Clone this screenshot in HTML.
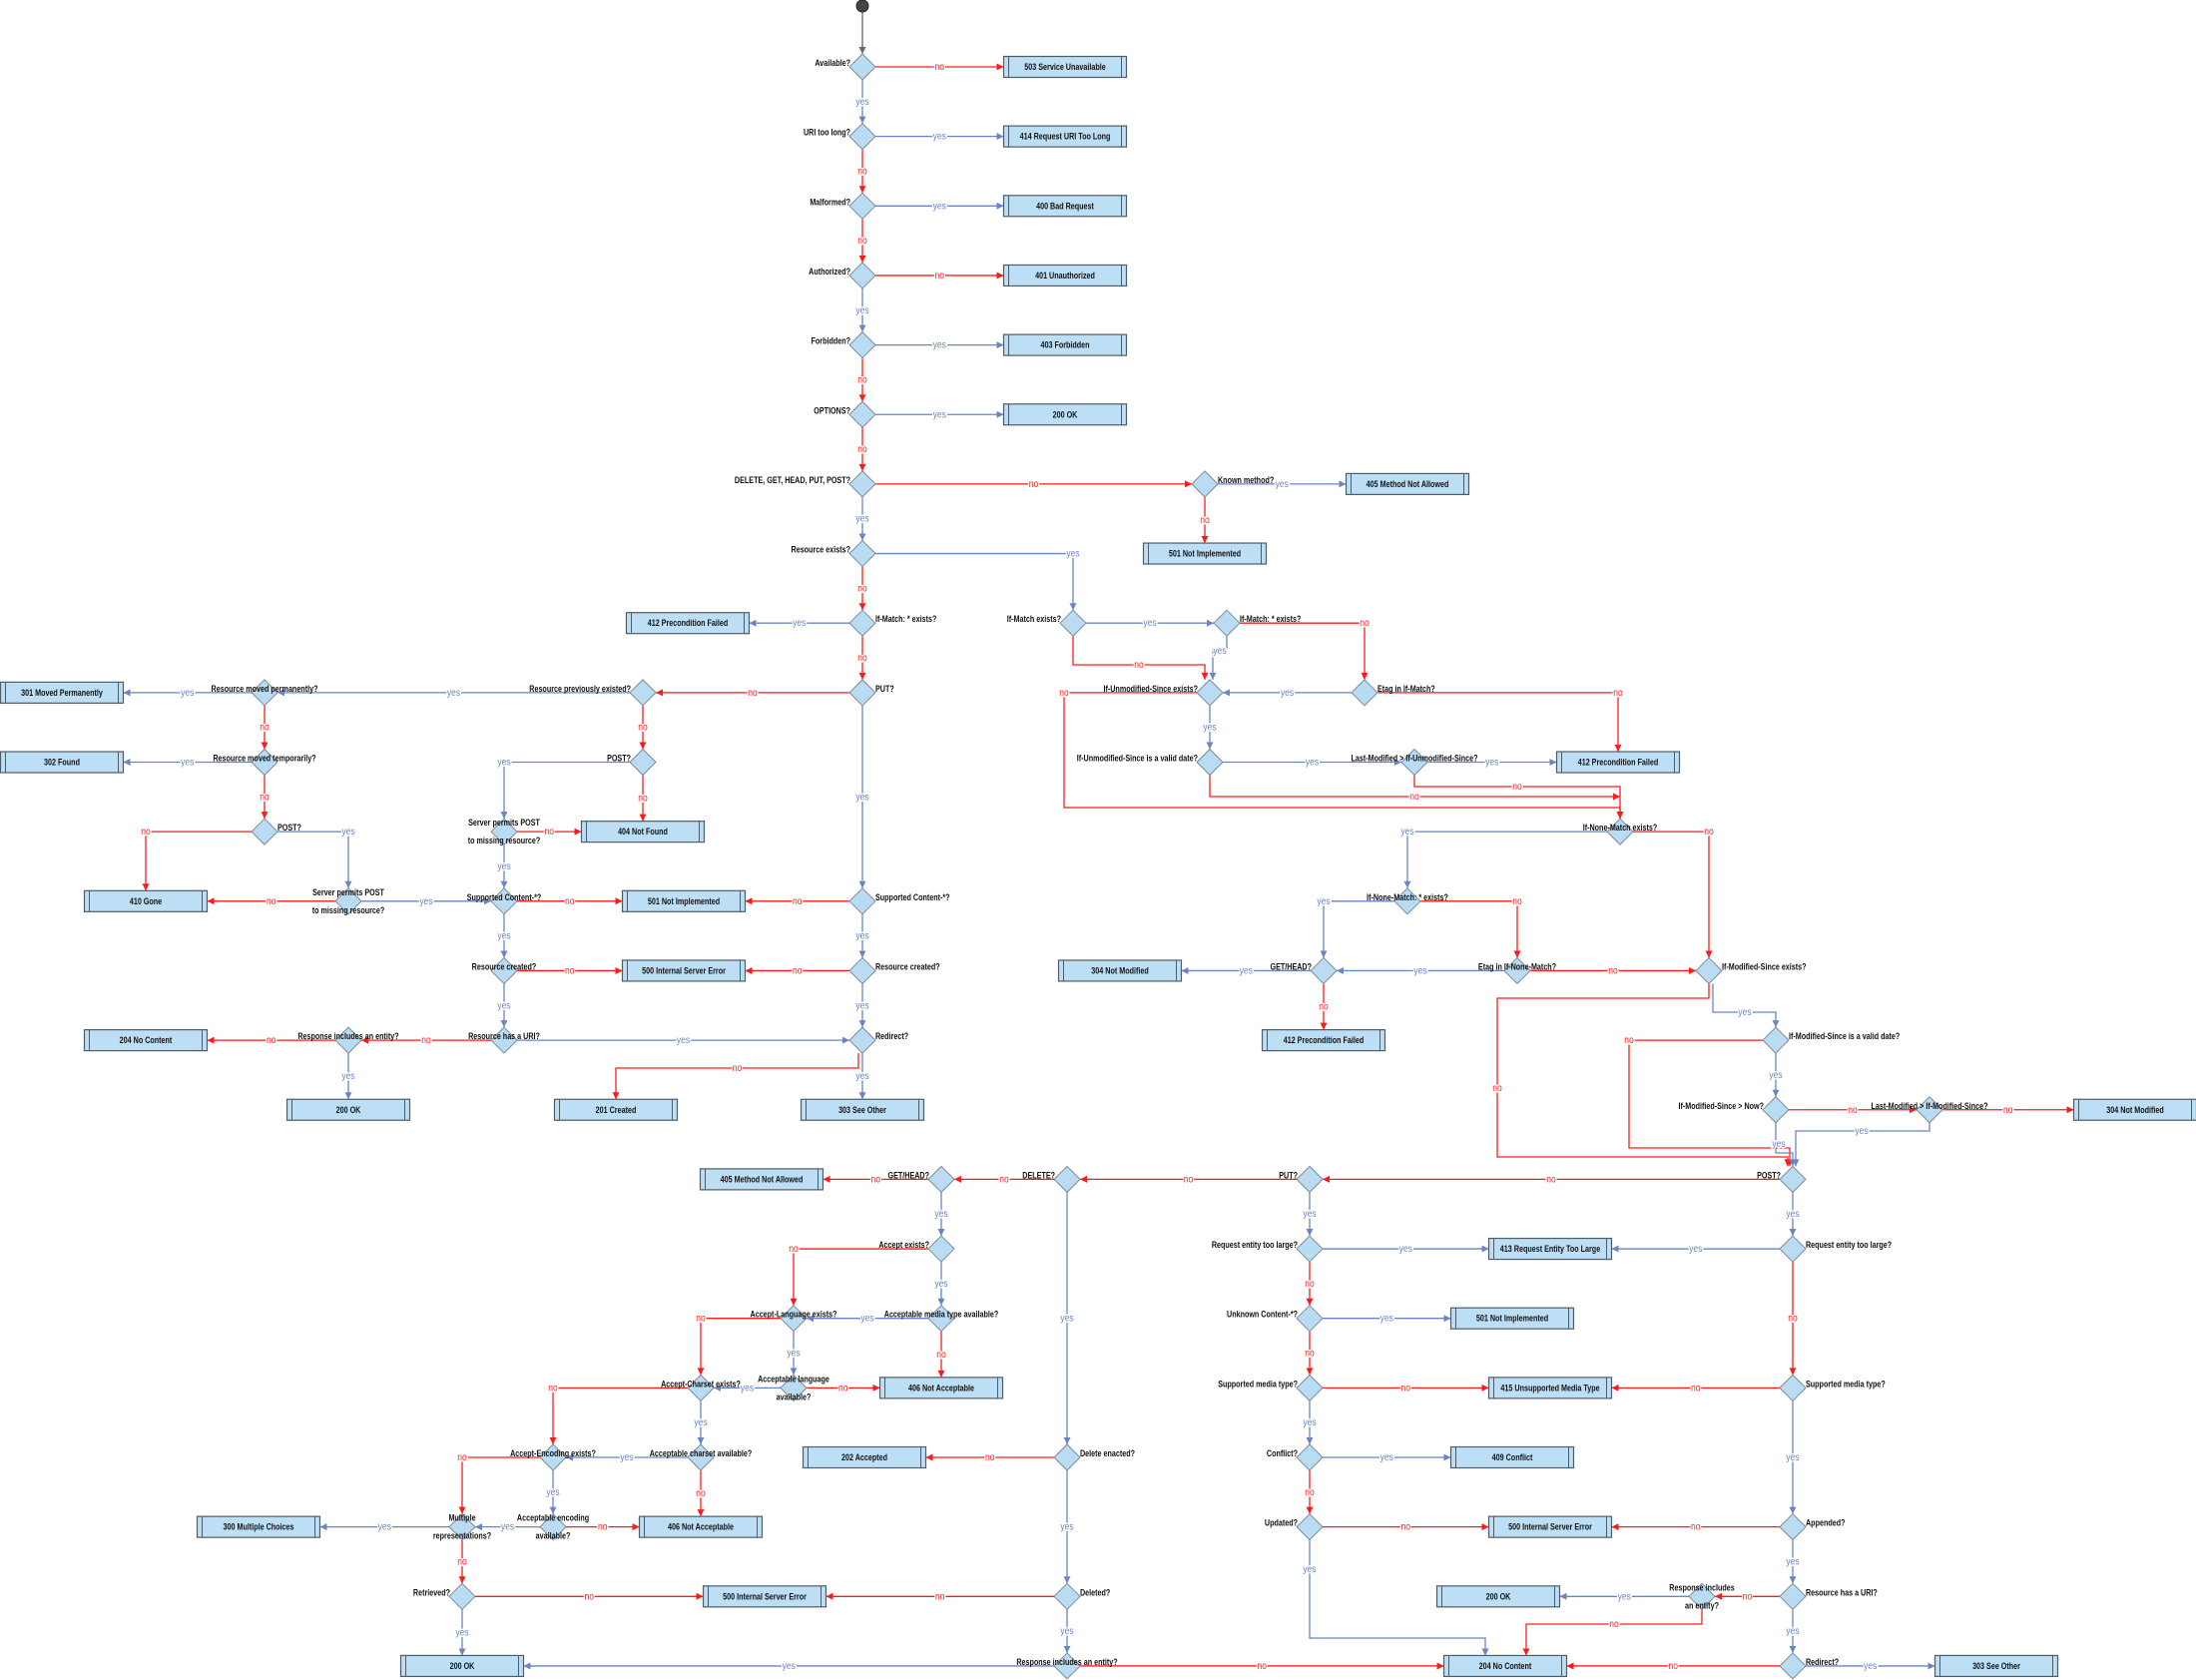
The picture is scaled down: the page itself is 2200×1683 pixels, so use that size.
<!DOCTYPE html>
<html><head><meta charset="utf-8"><style>
html,body{margin:0;padding:0;background:#fff;}
svg{display:block;}
text{font-family:"Liberation Sans",Arial,sans-serif;}
</style></head><body>
<svg id="s" width="2200" height="1683" viewBox="0 0 2200 1683" xmlns="http://www.w3.org/2000/svg"></svg>
<script>
const R=i=>67+69.65*i;
let out='';
const YC='#6a84c6', NC='#ff1a1a';
function T(x,y,t,anchor,col,w){
  out+=`<g transform="translate(${x},${y}) scale(0.8,1)"><text x="0" y="0" font-size="9" font-weight="${w||'bold'}" text-anchor="${anchor}" fill="${col||'#111'}">${t}</text></g>`;
}
function E(c,pts,lab,lp,noArrow){
  const col=c==='y'?YC:(c==='g'?'#666':NC);
  out+=`<polyline points="${pts.map(p=>p.join(',')).join(' ')}" fill="none" stroke="${col}" stroke-width="1.3"/>`;
  if(!noArrow){
  const a=pts[pts.length-1],b=pts[pts.length-2];
  let dx=a[0]-b[0],dy=a[1]-b[1],L=Math.hypot(dx,dy)||1;dx/=L;dy/=L;
  const bx=a[0]-dx*7,by=a[1]-dy*7;
  out+=`<polygon points="${a[0]},${a[1]} ${bx-dy*3.5},${by+dx*3.5} ${bx+dy*3.5},${by-dx*3.5}" fill="${col}"/>`;}
  if(c==='g')return;
  lab=lab||(c==='y'?'yes':'no');
  if(!lp){let best=0;for(let i=1;i<pts.length;i++){const l=Math.hypot(pts[i][0]-pts[i-1][0],pts[i][1]-pts[i-1][1]);if(l>best){best=l;lp=[(pts[i][0]+pts[i-1][0])/2,(pts[i][1]+pts[i-1][1])/2];}}}
  out+=`<g transform="translate(${lp[0]},${lp[1]+3}) scale(0.85,1)"><text x="0" y="0" font-size="10" text-anchor="middle" fill="${col}" stroke="#fff" stroke-width="3" paint-order="stroke">${lab}</text></g>`;
}
const nodes=[];
function D(x,r,t,a){nodes.push(()=>{const y=R(r);
  out+=`<polygon points="${x},${y-13} ${x+13},${y} ${x},${y+13} ${x-13},${y}" fill="#b9dcf2" stroke="#7d8b98" stroke-width="1"/>`;
  if(a==='l')T(x-12,y-1,t,'end');
  else if(a==='r')T(x+13,y-1,t,'start');
  else if(a==='c')T(x,y-1,t,'middle');
  else {const p=t.split('|');T(x,y-6,p[0],'middle');T(x,y+12,p[1],'middle');}
});}
function X(x,r,t){nodes.push(()=>{const y=R(r);
  out+=`<rect x="${x-61.5}" y="${y-10.5}" width="123" height="21" fill="#bddff5" stroke="#4f5b66" stroke-width="1.2"/>`;
  out+=`<line x1="${x-56.5}" y1="${y-10.5}" x2="${x-56.5}" y2="${y+10.5}" stroke="#4f5b66"/><line x1="${x+56.5}" y1="${y-10.5}" x2="${x+56.5}" y2="${y+10.5}" stroke="#4f5b66"/>`;
  T(x,y+3,t,'middle');
});}
function V(x,r1,r2,c,box){E(c,[[x,R(r1)+13],[x,R(r2)-(box?10.5:13)]]);}
function H(x1,x2,r,c,box){const s=x2>x1?1:-1;E(c,[[x1+13*s,R(r)],[x2-(box?61.5:13)*s,R(r)]]);}

[['Available?',0],['URI too long?',1],['Malformed?',2],['Authorized?',3],['Forbidden?',4],['OPTIONS?',5],['DELETE, GET, HEAD, PUT, POST?',6],['Resource exists?',7]].forEach(a=>D(864,a[1],a[0],'l'));
D(1207,6,'Known method?','r');
D(864,8,'If-Match: * exists?','r');D(864,9,'PUT?','r');
D(1075,8,'If-Match exists?','l');D(1229,8,'If-Match: * exists?','r');
D(1367,9,'Etag in If-Match?','r');D(1212,9,'If-Unmodified-Since exists?','l');
D(1212,10,'If-Unmodified-Since is a valid date?','l');D(1417,10,'Last-Modified &gt; If-Unmodified-Since?','c');
D(1623,11,'If-None-Match exists?','c');D(1410,12,'If-None-Match: * exists?','c');
D(1326,13,'GET/HEAD?','l');D(1520,13,'Etag in If-None-Match?','c');D(1712,13,'If-Modified-Since exists?','r');
D(1779,14,'If-Modified-Since is a valid date?','r');D(1779,15,'If-Modified-Since &gt; Now?','l');D(1933,15,'Last-Modified &gt; If-Modified-Since?','c');
D(1796,16,'POST?','l');D(1312,16,'PUT?','l');D(1069,16,'DELETE?','l');D(943,16,'GET/HEAD?','l');
D(943,17,'Accept exists?','l');D(943,18,'Acceptable media type available?','c');D(795,18,'Accept-Language exists?','c');
D(795,19,'Acceptable language|available?','c2');D(702,19,'Accept-Charset exists?','c');D(702,20,'Acceptable charset available?','c');
D(554,20,'Accept-Encoding exists?','c');D(554,21,'Acceptable encoding|available?','c2');D(463,21,'Multiple|representations?','c2');
D(463,22,'Retrieved?','l');D(1069,20,'Delete enacted?','r');D(1069,22,'Deleted?','r');D(1069,23,'Response includes an entity?','c');
D(1312,17,'Request entity too large?','l');D(1312,18,'Unknown Content-*?','l');D(1312,19,'Supported media type?','l');D(1312,20,'Conflict?','l');D(1312,21,'Updated?','l');
D(1796,17,'Request entity too large?','r');D(1796,19,'Supported media type?','r');D(1796,21,'Appended?','r');D(1796,22,'Resource has a URI?','r');D(1796,23,'Redirect?','r');
D(1705,22,'Response includes|an entity?','c2');
D(644,9,'Resource previously existed?','l');D(265,9,'Resource moved permanently?','c');D(265,10,'Resource moved temporarily?','c');
D(265,11,'POST?','r');D(644,10,'POST?','l');
D(505,11,'Server permits POST|to missing resource?','c2');D(349,12,'Server permits POST|to missing resource?','c2');
D(505,12,'Supported Content-*?','c');D(505,13,'Resource created?','c');D(505,14,'Resource has a URI?','c');D(349,14,'Response includes an entity?','c');
D(864,12,'Supported Content-*?','r');D(864,13,'Resource created?','r');D(864,14,'Redirect?','r');

[['503 Service Unavailable',0],['414 Request URI Too Long',1],['400 Bad Request',2],['401 Unauthorized',3],['403 Forbidden',4],['200 OK',5]].forEach(a=>X(1067,a[1],a[0]));
X(1410,6,'405 Method Not Allowed');X(1207,7,'501 Not Implemented');X(689,8,'412 Precondition Failed');
X(62,9,'301 Moved Permanently');X(62,10,'302 Found');X(644,11,'404 Not Found');X(146,12,'410 Gone');
X(685,12,'501 Not Implemented');X(685,13,'500 Internal Server Error');X(146,14,'204 No Content');
X(349,15,'200 OK');X(617,15,'201 Created');X(864,15,'303 See Other');X(1621,10,'412 Precondition Failed');
X(1122,13,'304 Not Modified');X(1326,14,'412 Precondition Failed');X(2139,15,'304 Not Modified');
X(763,16,'405 Method Not Allowed');X(943,19,'406 Not Acceptable');X(866,20,'202 Accepted');X(702,21,'406 Not Acceptable');
X(259,21,'300 Multiple Choices');X(766,22,'500 Internal Server Error');X(463,23,'200 OK');
X(1553,17,'413 Request Entity Too Large');X(1515,18,'501 Not Implemented');X(1553,19,'415 Unsupported Media Type');
X(1515,20,'409 Conflict');X(1553,21,'500 Internal Server Error');X(1501,22,'200 OK');X(1508,23,'204 No Content');X(2000,23,'303 See Other');

E('g',[[864,11],[864,54]]);
V(864,0,1,'y');V(864,1,2,'n');V(864,2,3,'n');V(864,3,4,'y');V(864,4,5,'n');V(864,5,6,'n');V(864,6,7,'y');V(864,7,8,'n');V(864,8,9,'n');
V(864,9,12,'y');V(864,12,13,'y');V(864,13,14,'y');V(864,14,15,'y',1);
H(864,1067,0,'n',1);H(864,1067,1,'y',1);H(864,1067,2,'y',1);H(864,1067,3,'n',1);H(864,1067,4,'y',1);H(864,1067,5,'y',1);
H(864,1207,6,'n');H(1207,1410,6,'y',1);V(1207,6,7,'n',1);
E('y',[[877,R(7)],[1075,R(7)],[1075,R(8)-13]],null,[1075,R(7)]);
H(864,689,8,'y',1);H(864,644,9,'n');H(864,685,12,'n',1);H(864,685,13,'n',1);
E('n',[[860,R(14)+13],[860,1070],[617,1070],[617,R(15)-10.5]]);
H(1075,1229,8,'y');
E('n',[[1075,R(8)+13],[1075,666],[1207,666],[1207,R(9)-13]]);
E('y',[[1229,R(8)+13],[1229,652],[1215,652],[1215,R(9)-13]],null,[1222,652]);
E('n',[[1242,R(8)],[1367,R(8)],[1367,R(9)-13]],null,[1367,R(8)]);
H(1367,1212,9,'y');
E('n',[[1380,R(9)],[1621,R(9)],[1621,R(10)-10.5]],null,[1621,R(9)]);
V(1212,9,10,'y');H(1212,1417,10,'y');H(1417,1621,10,'y',1);
E('n',[[1199,R(9)],[1066,R(9)],[1066,809],[1623,809],[1623,R(11)-13]],null,[1066,R(9)]);
E('n',[[1212,R(10)+13],[1212,798],[1623,798]],null,[1417,798]);
E('n',[[1417,R(10)+13],[1417,788],[1623,788],[1623,R(11)-13]],null,[1520,788]);
E('y',[[1610,R(11)],[1410,R(11)],[1410,R(12)-13]],null,[1410,R(11)]);
E('n',[[1636,R(11)],[1712,R(11)],[1712,R(13)-13]],null,[1712,R(11)]);
E('y',[[1397,R(12)],[1326,R(12)],[1326,R(13)-13]],null,[1326,R(12)]);
E('n',[[1423,R(12)],[1520,R(12)],[1520,R(13)-13]],null,[1520,R(12)]);
H(1520,1326,13,'y');H(1520,1712,13,'n');H(1326,1122,13,'y',1);V(1326,13,14,'n',1);
E('n',[[1712,R(13)+13],[1712,1000],[1500,1000],[1500,1159],[1791,1159],[1791,R(16)-13]],null,[1500,1090]);
E('y',[[1716,R(13)+13],[1716,1014],[1779,1014],[1779,R(14)-13]],null,[1748,1014]);
E('n',[[1766,R(14)],[1632,R(14)],[1632,1150],[1793,1150],[1793,R(16)-13]],null,[1632,R(14)]);
V(1779,14,15,'y');H(1779,1933,15,'n');H(1933,2139,15,'n',1);
E('y',[[1779,R(15)+13],[1779,1155],[1796,1155],[1796,R(16)-13]],null,[1782,1146]);
E('y',[[1933,R(15)+13],[1933,1133],[1799,1133],[1799,R(16)-13]],null,[1865,1133]);
H(1796,1312,16,'n');H(1312,1069,16,'n');H(1069,943,16,'n');H(943,763,16,'n',1);
V(1069,16,20,'y');V(943,16,17,'y');
E('n',[[930,R(17)],[795,R(17)],[795,R(18)-13]],null,[795,R(17)]);
V(943,17,18,'y');H(943,795,18,'y');V(943,18,19,'n',1);
E('n',[[782,R(18)],[702,R(18)],[702,R(19)-13]],null,[702,R(18)]);
V(795,18,19,'y');H(795,702,19,'y');H(795,943,19,'n',1);
E('n',[[689,R(19)],[554,R(19)],[554,R(20)-13]],null,[554,R(19)]);
V(702,19,20,'y');H(702,554,20,'y');V(702,20,21,'n',1);
E('n',[[541,R(20)],[463,R(20)],[463,R(21)-13]],null,[463,R(20)]);
V(554,20,21,'y');H(554,463,21,'y');H(554,702,21,'n',1);H(463,259,21,'y',1);
V(463,21,22,'n');H(463,766,22,'n',1);V(463,22,23,'y',1);
H(1069,866,20,'n',1);V(1069,20,22,'y');H(1069,766,22,'n',1);V(1069,22,23,'y');
H(1069,463,23,'y',1);H(1069,1508,23,'n',1);
V(1312,16,17,'y');H(1312,1553,17,'y',1);V(1312,17,18,'n');H(1312,1515,18,'y',1);V(1312,18,19,'n');
H(1312,1553,19,'n',1);V(1312,19,20,'y');H(1312,1515,20,'y',1);V(1312,20,21,'n');H(1312,1553,21,'n',1);
E('y',[[1312,R(21)+13],[1312,1641],[1488,1641],[1488,R(23)-10.5]],null,[1312,1572]);
V(1796,16,17,'y');H(1796,1553,17,'y',1);V(1796,17,19,'n');H(1796,1553,19,'n',1);V(1796,19,21,'y');
H(1796,1553,21,'n',1);V(1796,21,22,'y');H(1796,1705,22,'n');H(1705,1501,22,'y',1);
E('n',[[1705,R(22)+13],[1705,1627],[1529,1627],[1529,R(23)-10.5]],null,[1617,1627]);
V(1796,22,23,'y');H(1796,1508,23,'n',1);H(1796,2000,23,'y',1);
H(644,265,9,'y');V(644,9,10,'n');H(265,62,9,'y',1);V(265,9,10,'n');H(265,62,10,'y',1);V(265,10,11,'n');
E('n',[[252,R(11)],[146,R(11)],[146,R(12)-10.5]],null,[146,R(11)]);
E('y',[[278,R(11)],[349,R(11)],[349,R(12)-13]],null,[349,R(11)]);
E('y',[[631,R(10)],[505,R(10)],[505,R(11)-13]],null,[505,R(10)]);
V(644,10,11,'n',1);H(505,644,11,'n',1);V(505,11,12,'y');
H(349,146,12,'n',1);H(349,505,12,'y');
H(505,685,12,'n',1);V(505,12,13,'y');H(505,685,13,'n',1);V(505,13,14,'y');
H(505,349,14,'n');H(505,864,14,'y');H(349,146,14,'n',1);V(349,14,15,'y',1);

nodes.forEach(f=>f());
out+=`<circle cx="864" cy="6" r="6" fill="#444" stroke="#222"/>`;
document.getElementById('s').innerHTML=out;
</script>
</body></html>
